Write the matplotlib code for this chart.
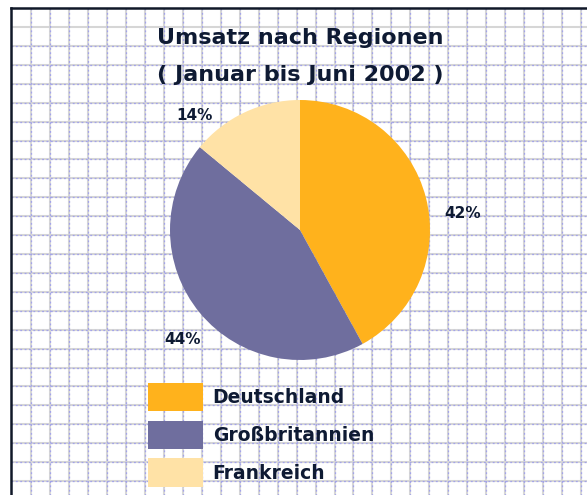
import numpy as np
import matplotlib
matplotlib.use("Agg")
import matplotlib.pyplot as plt

# ---- data ----
regions = ["Deutschland", "Großbritannien", "Frankreich"]
shares = [42, 44, 14]
pct_labels = ["42%", "44%", "14%"]
title_lines = ["Umsatz nach Regionen", "( Januar bis Juni 2002 )"]

# ---- style ----
colors = ["#FFB21C", "#6F6E9E", "#FFE2A6"]
text_color = "#0E1A33"
W, H = 587, 495
fam = ["DejaVu Sans"]

fig = plt.figure(figsize=(W / 100, H / 100), dpi=100)
fig.patch.set_facecolor("white")

# background grid paper (pixel coordinates)
bg = fig.add_axes([0, 0, 1, 1])
bg.set_xlim(0, W)
bg.set_ylim(H, 0)
bg.axis("off")
xs = 31 + 18.97 * np.arange(0, 30)
ys = 27 + 18.92 * np.arange(0, 26)
bg.vlines(xs, 8, H, colors="#d6d6d6", lw=1.5, zorder=1)
bg.hlines(ys, 11, W, colors="#d6d6d6", lw=1.5, zorder=1)
bg.vlines(xs, 8, H, colors="#a3a3ea", lw=0.9, linestyles=(0, (1.5, 2)), zorder=2)
bg.hlines(ys[1:], 11, W, colors="#a3a3ea", lw=0.9, linestyles=(0, (1.5, 2)), zorder=2)
bg.plot([11, 11], [8, H], color="#101828", lw=1.8, zorder=3)
bg.plot([11, W], [8, 8], color="#101828", lw=1.8, zorder=3)

# titles
bg.text(300, 38, title_lines[0], ha="center", va="center", fontsize=16,
        fontweight="bold", color=text_color, family=fam, zorder=5)
bg.text(300, 75, title_lines[1], ha="center", va="center", fontsize=16,
        fontweight="bold", color=text_color, family=fam, zorder=5)

# pie
cx, cy, r = 300, 230, 130
pax = fig.add_axes([(cx - r) / W, (H - cy - r) / H, 2 * r / W, 2 * r / H])
wedges, _ = pax.pie(shares, colors=colors, startangle=90, counterclock=False,
                    radius=1.0, wedgeprops=dict(linewidth=0))
pax.set_xlim(-1, 1)
pax.set_ylim(-1, 1)
pax.set_aspect("auto")
pax.axis("off")

# percentage labels (figure pixel positions)
label_pos = [(463, 214), (183, 340), (195, 115)]
for lab, (lx, ly) in zip(pct_labels, label_pos):
    bg.text(lx, ly, lab, ha="center", va="center", fontsize=11, fontweight="heavy",
            color=text_color, family=fam, zorder=5)

# legend
leg = bg.legend(wedges, regions, loc="upper left", bbox_to_anchor=(148 / W, 1 - 383 / H),
                bbox_transform=fig.transFigure, frameon=False,
                prop=dict(size=13.5, weight="bold", family=fam),
                handlelength=2.95, handleheight=1.95, labelspacing=0.5,
                handletextpad=0.5, borderpad=0, borderaxespad=0)
for t in leg.get_texts():
    t.set_color(text_color)
leg.set_zorder(6)

fig.savefig("out.png", dpi=100, facecolor="white")
